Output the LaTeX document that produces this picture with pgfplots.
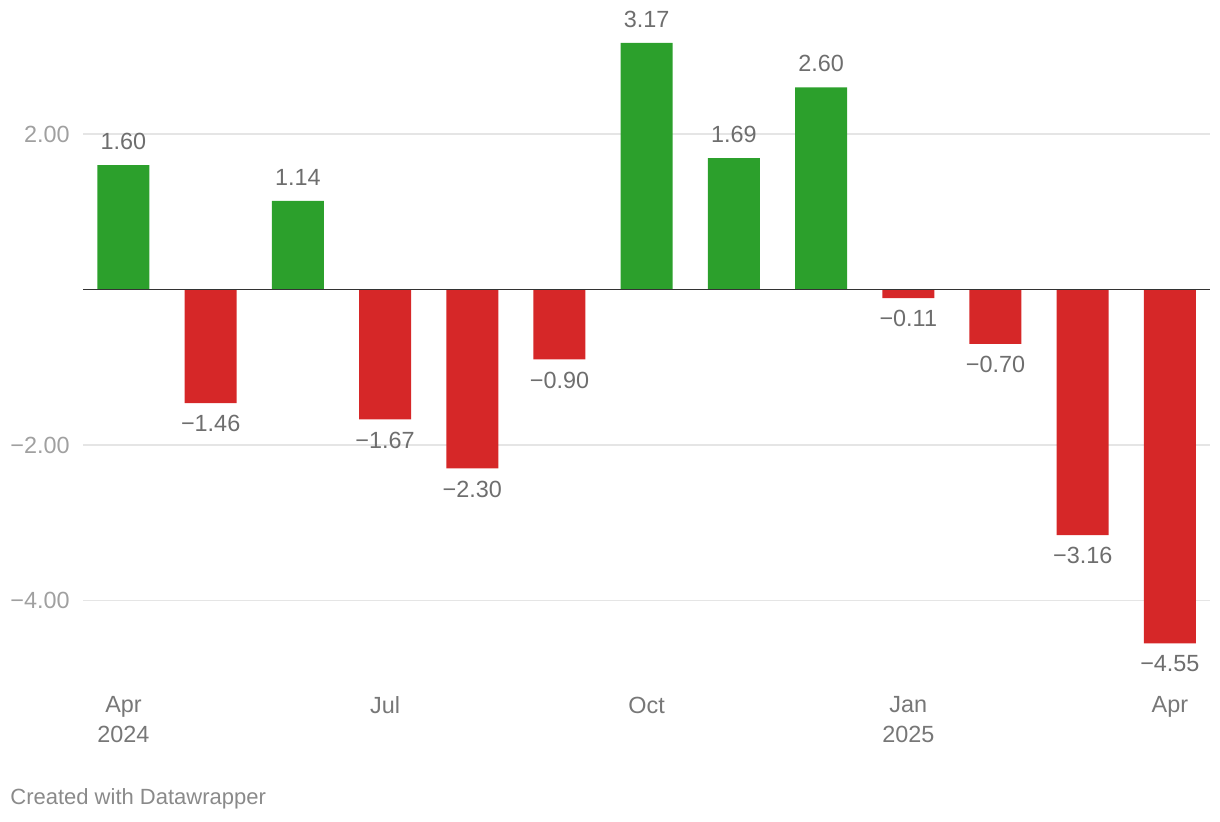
\documentclass[border=0pt]{standalone}
\usepackage{fontspec}
\setmainfont{Liberation Sans}
\usepackage{pgfplots}
\pgfplotsset{compat=1.18}
\definecolor{barGreen}{HTML}{2CA02C}
\definecolor{barRed}{HTML}{D62728}
\definecolor{valGray}{HTML}{6E6E6E}
\definecolor{ytGray}{HTML}{A0A0A0}
\definecolor{xtGray}{HTML}{777777}
\definecolor{footGray}{HTML}{8A8A8A}
\definecolor{gridGray}{HTML}{E5E5E5}
\newcommand\lblfont{\fontsize{11.7}{15}\selectfont}
\begin{document}
\begin{tikzpicture}
\useasboundingbox (0,0) rectangle (610pt,411pt);
\begin{axis}[
  at={(41.5pt,89.35pt)}, anchor=south west,
  scale only axis, width=563.5pt, height=300.15pt,
  xmin=-0.464, xmax=12.46, ymin=-4.55, ymax=3.17,
  ybar, bar width=26pt, bar shift=0pt,
  axis line style={draw=none}, major tick length=0pt,
  ytick={-4,-2,2}, yticklabels={−4.00,−2.00,2.00},
  ymajorgrids, grid style={gridGray, line width=0.6pt},
  xtick={0,3,6,9,12},
  xticklabels={{Apr\\2024},Jul,Oct,{Jan\\2025},Apr},
  xticklabel style={anchor=north, inner sep=0pt, yshift=-26.5pt,
    align=center, text=xtGray, font=\lblfont},
  yticklabel style={anchor=east, inner sep=0pt, xshift=-6.5pt,
    text=ytGray, font=\lblfont},
  /pgf/number format/assume math mode=true,
]
% months above zero
\addplot[fill=barGreen, draw=none,
  nodes near coords={\pgfmathprintnumber[fixed,precision=2,zerofill]{\pgfplotspointmeta}},
  nodes near coords style={anchor=south, inner sep=0pt, yshift=7.5pt,
    text=valGray, font=\lblfont}]
  coordinates {(0,1.60) (2,1.14) (6,3.17) (7,1.69) (8,2.60)};
% months below zero
\addplot[fill=barRed, draw=none, point meta=explicit symbolic,
  nodes near coords={−\pgfplotspointmeta},
  nodes near coords style={anchor=north, inner sep=0pt, yshift=-6pt,
    text=valGray, font=\lblfont}]
  coordinates {(1,-1.46)[1.46] (3,-1.67)[1.67] (4,-2.30)[2.30] (5,-0.90)[0.90]
               (9,-0.11)[0.11] (10,-0.70)[0.70] (11,-3.16)[3.16] (12,-4.55)[4.55]};
\draw[black!80, line width=0.9pt] (axis cs:-0.475,0) -- (axis cs:12.46,0);
\end{axis}
\node[anchor=base west, inner sep=0pt, text=footGray, font=\fontsize{11}{13}\selectfont]
  at (5pt,8.5pt) {Created with Datawrapper};
\end{tikzpicture}
\end{document}
